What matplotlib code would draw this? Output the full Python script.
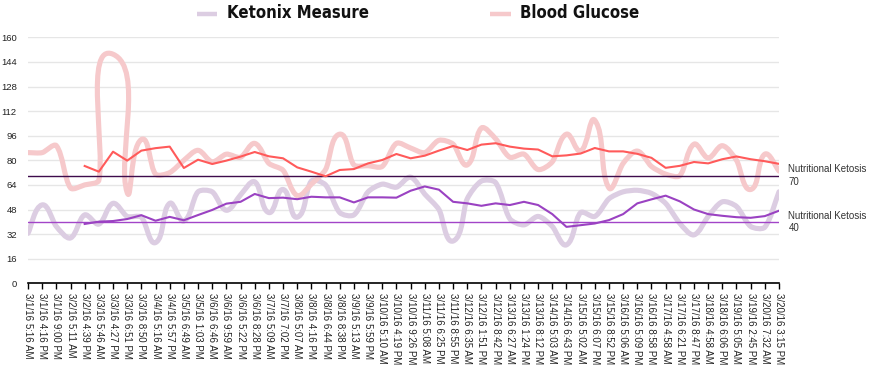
import numpy as np
import matplotlib
matplotlib.use("Agg")
import matplotlib.pyplot as plt
from matplotlib.path import Path
from matplotlib.patches import PathPatch
from matplotlib.lines import Line2D
from matplotlib import font_manager
from matplotlib.font_manager import FontProperties

categories = [
    "3/1/16 5:16 AM", "3/1/16 4:16 PM", "3/1/16 9:00 PM", "3/2/16 5:11 AM", "3/2/16 4:39 PM",
    "3/3/16 5:46 AM", "3/3/16 4:27 PM", "3/3/16 6:51 PM", "3/3/16 8:50 PM", "3/4/16 5:16 AM",
    "3/4/16 5:57 PM", "3/5/16 6:49 AM", "3/5/16 1:03 PM", "3/6/16 6:46 AM", "3/6/16 9:59 AM",
    "3/6/16 5:22 PM", "3/6/16 8:28 PM", "3/7/16 5:09 AM", "3/7/16 7:02 PM", "3/8/16 5:07 AM",
    "3/8/16 4:16 PM", "3/8/16 6:44 PM", "3/8/16 8:38 PM", "3/9/16 5:13 AM", "3/9/16 5:59 PM",
    "3/10/16 5:10 AM", "3/10/16 4:19 PM", "3/10/16 9:26 PM", "3/11/16 5:08 AM", "3/11/16 6:25 PM",
    "3/11/16 8:55 PM", "3/12/16 6:35 AM", "3/12/16 1:51 PM", "3/12/16 8:42 PM", "3/13/16 6:27 AM",
    "3/13/16 1:24 PM", "3/13/16 8:12 PM", "3/14/16 5:03 AM", "3/14/16 6:43 PM", "3/15/16 5:02 AM",
    "3/15/16 6:07 PM", "3/15/16 8:52 PM", "3/16/16 5:06 AM", "3/16/16 5:09 PM", "3/16/16 8:58 PM",
    "3/17/16 4:58 AM", "3/17/16 6:21 PM", "3/17/16 8:47 PM", "3/18/16 4:58 AM", "3/18/16 6:06 PM",
    "3/19/16 5:05 AM", "3/19/16 2:45 PM", "3/20/16 7:32 AM", "3/20/16 3:15 PM",
]

ketonix = [32.5, 51, 37, 29.5, 44.5, 38.5, 52, 43.5, 43, 26.5,
           52, 40.5, 59.5, 59.5, 47.5, 57.5, 66, 46, 61, 43,
           66.5, 64, 46, 44.5, 59.5, 64.5, 62.5, 69, 58, 48,
           27.5, 55, 66.5, 65.5, 42, 38, 43.5, 37, 25, 46,
           43.5, 55, 59.5, 60.5, 58.5, 52, 39, 31.5, 43.5, 53,
           50, 37, 36.5, 59.5]

glucose = [85, 85, 89.5, 62, 64, 67, 149, 59, 93.5, 71,
           72, 80, 86.5, 79, 84, 82, 91, 78, 73.5, 57,
           64.5, 74, 97, 77, 76.5, 76, 91, 88, 85, 93,
           90.5, 77, 101, 94, 82, 84, 74, 79, 97, 86,
           106, 62, 78, 86, 76, 71, 70, 90.5, 81.5, 89.5,
           80, 61, 84, 73]

ketonix_avg = [None, None, None, None,
               38.6, 40.1, 40.5, 41.8, 44.3, 40.7, 43.2, 41.0, 44.4, 47.7,
               51.8, 53.0, 58.1, 55.4, 55.7, 54.7, 56.3, 55.9, 55.9, 52.6,
               55.9, 55.9, 55.7, 60.2, 63.0, 60.9, 53.0, 52.0, 50.4, 52.0,
               50.9, 53.0, 50.9, 45.0, 36.7, 37.8, 38.9, 41.1, 45.0, 52.0,
               54.6, 57.0, 53.3, 48.0, 45.0, 43.9, 43.0, 42.6, 43.7, 47.2]

glucose_avg = [None, None, None, None,
               76.3, 72.6, 85.6, 79.8, 86.3, 87.9, 88.9, 75.0, 80.4, 77.6,
               79.8, 82.4, 85.4, 82.6, 81.3, 75.4, 72.6, 69.6, 73.7, 74.3,
               78.0, 80.2, 84.1, 81.3, 83.0, 86.3, 89.3, 86.7, 90.2, 91.1,
               88.9, 87.6, 87.0, 82.6, 83.2, 84.4, 88.0, 85.8, 85.8, 84.2,
               81.6, 75.1, 76.4, 78.9, 78.0, 80.7, 82.5, 80.7, 79.4, 77.7]

guide_values = [70, 40]
guide_labels = ["Nutritional Ketosis\n70", "Nutritional Ketosis\n40"]
series_names = ["Ketonix Measure", "Blood Glucose"]
yticks = list(range(0, 161, 16))

# ---- styling ----
C_KET_PALE = "#dccde2"
C_GLU_PALE = "#f6c9cb"
C_KET = "#9a42c2"
C_GLU = "#ff5a5a"
C_G70 = "#3e0b4c"
C_G40 = "#a244c8"

tick_family = ["Liberation Sans", "DejaVu Sans"]

# pick the narrowest bold family available for the legend
names = {f.name for f in font_manager.fontManager.ttflist}
legend_props = None
for fam, stretch in [("Liberation Sans Narrow", "normal"), ("DejaVu Sans", "condensed"),
                     ("Roboto", "condensed"), ("Open Sans", "condensed"),
                     ("Liberation Sans", "normal")]:
    if fam in names:
        fp = FontProperties(family=fam, weight="bold", stretch=stretch)
        path = font_manager.findfont(fp, fallback_to_default=False)
        if stretch == "condensed" and "ondensed" not in path:
            continue
        legend_props = dict(family=[fam, "DejaVu Sans"], fontstretch=stretch)
        break
if legend_props is None:
    legend_props = dict(family=["DejaVu Sans"], fontstretch="normal")

W, H, DPI = 869, 365, 100
fig = plt.figure(figsize=(W / DPI, H / DPI), dpi=DPI)
L, R, T, B = 28.0, 779.0, 37.3, 283.3
ax = fig.add_axes([L / W, 1 - B / H, (R - L) / W, (B - T) / H])
n = len(categories)
ax.set_xlim(0, n - 1)
ax.set_ylim(0, 160)
sx = (R - L) / (n - 1)
sy = (B - T) / 160.0


def smooth_path(values, f=0.25):
    xs = np.arange(len(values), dtype=float)
    P = np.column_stack([xs * sx, np.asarray(values, float) * sy])
    m = len(P)
    cprev = np.zeros_like(P)
    cnext = np.zeros_like(P)
    for i in range(m):
        a = P[i - 1] if i > 0 else P[i]
        b = P[i + 1] if i < m - 1 else P[i]
        d = b - a
        u = d / np.hypot(*d)
        cprev[i] = P[i] - u * f * np.hypot(*(P[i] - a))
        cnext[i] = P[i] + u * f * np.hypot(*(b - P[i]))
    verts = [P[0]]
    codes = [Path.MOVETO]
    for i in range(m - 1):
        verts += [cnext[i], cprev[i + 1], P[i + 1]]
        codes += [Path.CURVE4] * 3
    verts = np.array(verts) / np.array([sx, sy])
    return Path(verts, codes)


ax.add_patch(PathPatch(smooth_path(ketonix), fill=False, edgecolor=C_KET_PALE, lw=3.7,
                       capstyle="round", joinstyle="round", zorder=2))
ax.add_patch(PathPatch(smooth_path(glucose), fill=False, edgecolor=C_GLU_PALE, lw=3.7,
                       capstyle="round", joinstyle="round", zorder=2))

gcol = [C_G70, C_G40]
for v, lab, c in zip(guide_values, guide_labels, gcol):
    ax.axhline(v, color=c, lw=1.0, zorder=3)
    ax.text(1.0125, v, lab, transform=ax.get_yaxis_transform(), ha="left", va="center",
            fontsize=7.0, color="#333333", family=tick_family, linespacing=1.3, clip_on=False)

xs = np.arange(n)
ka = np.array([np.nan if v is None else v for v in ketonix_avg])
ga = np.array([np.nan if v is None else v for v in glucose_avg])
ax.plot(xs, ka, color=C_KET, lw=1.5, zorder=4, solid_joinstyle="round")
ax.plot(xs, ga, color=C_GLU, lw=1.5, zorder=4, solid_joinstyle="round")

# axes styling
for s in ["top", "right", "left"]:
    ax.spines[s].set_visible(False)
ax.spines["bottom"].set_color("black")
ax.spines["bottom"].set_linewidth(1.2)
ax.spines["bottom"].set_zorder(5)
ax.set_yticks(yticks)
ax.yaxis.grid(True, color="#e6e6e6", lw=1.0)
ax.set_axisbelow(True)
ax.tick_params(axis="y", length=0, pad=8, labelsize=6.8, labelcolor="#222222")
ax.set_xticks(xs)
ax.set_xticklabels(categories)
ax.tick_params(axis="x", length=4, width=1, color="black", pad=3, labelsize=7.0, labelcolor="#222222")
for t in ax.get_xticklabels():
    t.set_rotation(270)
    t.set_ha("center")
    t.set_va("top")
    t.set_family(tick_family)
for t in ax.get_yticklabels():
    t.set_family(tick_family)

# legend
ly = 1 - 13.5 / H
for (x0, x1, tx), name, col in zip([(197, 217, 227), (490, 511, 520)], series_names,
                                    [C_KET_PALE, C_GLU_PALE]):
    fig.add_artist(Line2D([x0 / W, x1 / W], [ly, ly], color=col, lw=3.2, solid_capstyle="butt",
                          transform=fig.transFigure))
    fig.text(tx / W, ly, name, ha="left", va="center", fontsize=12, fontweight="bold",
             color="#111111", **legend_props)

fig.savefig("out.png", dpi=DPI)
